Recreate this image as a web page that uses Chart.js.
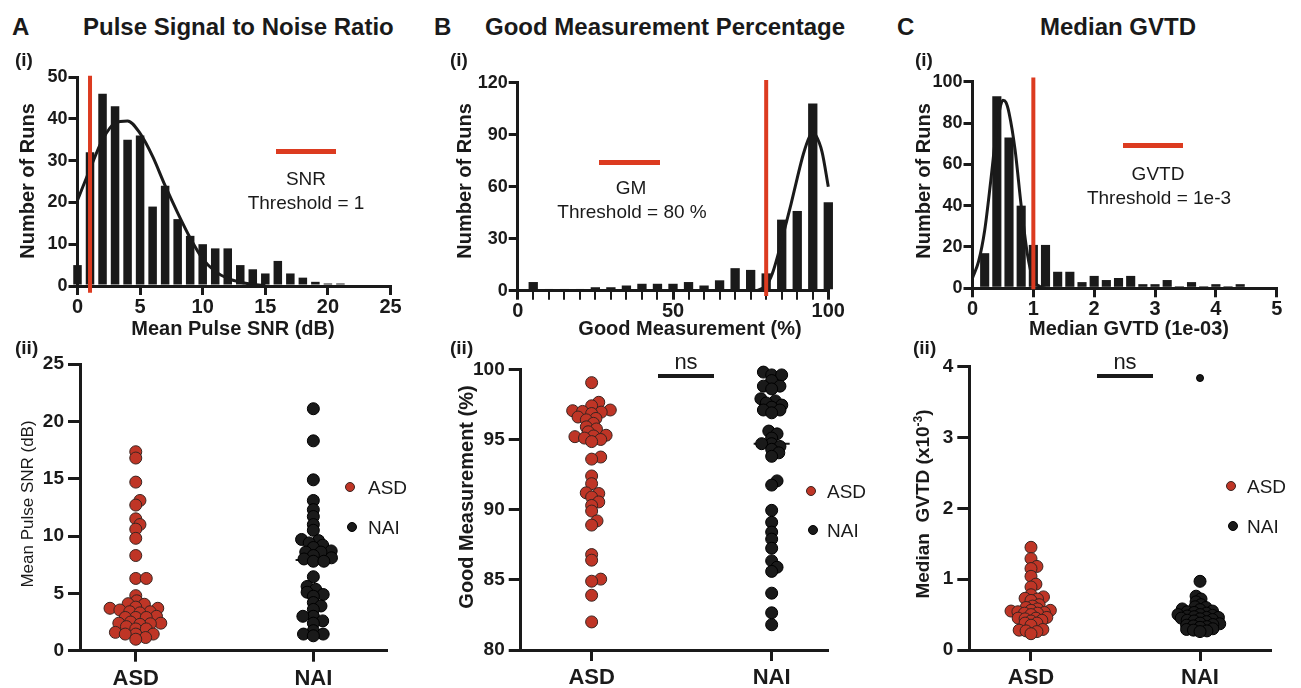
<!DOCTYPE html>
<html>
<head>
<meta charset="utf-8">
<script src="https://cdn.jsdelivr.net/npm/chart.js@4.4.1/dist/chart.umd.min.js"></script>
<style>
  body { margin: 0; background: #fff; width: 1301px; height: 688px; overflow: hidden; position: relative;
         font-family: "Liberation Sans", Arial, sans-serif; color: #1a1a1a; }
  canvas { position: absolute; }
  .t { position: absolute; white-space: nowrap; line-height: 1; z-index: 2; }
  .b { font-weight: bold; }
</style>
</head>
<body>
<canvas id="a1" width="412" height="262" style="left:0;top:57px"></canvas>
<canvas id="b1" width="420" height="260" style="left:430px;top:62px"></canvas>
<canvas id="c1" width="421" height="260" style="left:880px;top:61px"></canvas>
<canvas id="a2" width="400" height="344" style="left:0;top:344px"></canvas>
<canvas id="b2" width="400" height="339" style="left:440px;top:349px"></canvas>
<canvas id="c2" width="400" height="342" style="left:890px;top:346px"></canvas>

<script>
// ---- histogram data (row i) ----
const snrBins = [0, 1, 2, 3, 4, 5, 6, 7, 8, 9, 10, 11, 12, 13, 14, 15, 16, 17, 18, 19, 20, 21];
const snrCounts = [5, 32, 46, 43, 35, 36, 19, 24, 16, 12, 10, 9, 9, 5, 4, 3, 6, 3, 2, 1, 0.6, 0.6];
const snrFitX = [0, 1, 2, 3, 4, 5, 6, 7, 8, 9, 10, 11, 12, 13, 14, 15];
const snrFitY = [20.5, 28, 35, 39, 39.5, 36.5, 31, 24, 17.5, 11.5, 6.5, 3.5, 1.8, 0.9, 0.4, 0.1];
const snrThreshold = 1;

const gmBins = [5, 10, 15, 20, 25, 30, 35, 40, 45, 50, 55, 60, 65, 70, 75, 80, 85, 90, 95, 100];
const gmCounts = [5, 1, 1, 1, 2, 2, 3, 4, 4, 4, 5, 3, 6, 13, 12, 10, 41, 46, 108, 51];
const gmFitX = [77, 80, 82, 84, 86, 88, 90, 92, 94, 95, 96, 98, 100];
const gmFitY = [0, 3, 10, 22, 36, 50, 65, 79, 89, 91, 89.5, 80, 60];
const gmThreshold = 80;

const gvtdBins = [0.2, 0.4, 0.6, 0.8, 1.0, 1.2, 1.4, 1.6, 1.8, 2.0, 2.2, 2.4, 2.6, 2.8, 3.0, 3.2, 3.4, 3.6, 3.8, 4.0, 4.2, 4.4];
const gvtdCounts = [17, 93, 73, 40, 21, 21, 8, 8, 3, 6, 4, 5, 6, 2, 2, 4, 1, 3, 1, 2, 1, 2];
const gvtdFitX = [0, 0.1, 0.2, 0.3, 0.4, 0.45, 0.5, 0.55, 0.6, 0.7, 0.8, 0.9, 1.0, 1.1, 1.2];
const gvtdFitY = [5, 13, 28, 52, 78, 87, 91, 90, 85, 67, 40, 17, 4, 1, 0];
const gvtdThreshold = 1.0;

// ---- per-subject data (row ii) ----
const groups = ['ASD', 'NAI'];
const snrASD = [17.35, 16.8, 14.7, 13.1, 12.7, 11.5, 11.0, 10.6, 9.8, 8.3, 6.3, 6.3, 4.8, 4.35, 4.1, 4.05,
  3.8, 3.7, 3.7, 3.55, 3.4, 3.4, 3.3, 3.0, 2.9, 2.9, 2.9, 2.5, 2.4, 2.4, 2.35, 2.3, 2.1, 1.9, 1.9, 1.6,
  1.45, 1.45, 1.45, 1.15, 1.0];
const snrNAI = [21.1, 18.3, 14.9, 13.1, 12.3, 11.7, 11.0, 10.5, 9.7, 9.6, 9.4, 9.2, 9.0, 8.7, 8.6, 8.6,
  8.3, 8.1, 8.0, 7.8, 7.8, 6.45, 5.6, 5.35, 5.1, 4.9, 4.75, 4.2, 3.9, 3.6, 3.0, 3.0, 2.6, 2.4, 1.75,
  1.45, 1.45, 1.3];
const gmASD = [99.05, 97.65, 97.4, 97.1, 97.05, 97.0, 96.95, 96.85, 96.6, 96.5, 96.4, 96.15, 95.9, 95.75,
  95.55, 95.3, 95.25, 95.2, 95.1, 95.0, 94.85, 93.75, 93.6, 92.4, 91.85, 91.2, 91.15, 90.9, 90.55, 90.3,
  89.9, 89.2, 88.9, 86.8, 86.4, 85.05, 84.9, 83.9, 82.0];
const gmNAI = [99.8, 99.6, 99.6, 99.2, 98.8, 98.8, 98.6, 97.9, 97.75, 97.6, 97.45, 97.3, 97.1, 97.1, 96.9,
  95.6, 95.4, 95.1, 94.7, 94.7, 94.5, 94.3, 94.05, 93.8, 92.05, 91.75, 89.95, 89.1, 88.4, 87.9, 87.25,
  86.35, 85.9, 85.6, 84.05, 82.65, 81.8];
const gvtdASD = [1.45, 1.29, 1.18, 1.15, 1.04, 0.93, 0.89, 0.78, 0.75, 0.73, 0.72, 0.7, 0.64, 0.62, 0.6,
  0.58, 0.56, 0.56, 0.55, 0.54, 0.53, 0.52, 0.52, 0.5, 0.46, 0.45, 0.45, 0.44, 0.42, 0.41, 0.38, 0.38,
  0.35, 0.29, 0.28, 0.27, 0.26, 0.23];
const gvtdNAI = [3.84, 0.97, 0.76, 0.72, 0.68, 0.64, 0.61, 0.6, 0.58, 0.57, 0.55, 0.54, 0.53, 0.52, 0.5,
  0.5, 0.49, 0.48, 0.47, 0.46, 0.46, 0.45, 0.44, 0.43, 0.42, 0.41, 0.4, 0.38, 0.37, 0.36, 0.35, 0.34,
  0.33, 0.32, 0.3, 0.29, 0.28, 0.27, 0.26];

const INK = '#1a1a1a';
const RED = '#dc3b20';
const ASD_FILL = '#bf3526';
const SANS = '"Liberation Sans", Arial, sans-serif';

function axisStyle(tickLen, font, pad) {
  return {
    border: { display: true, width: 3, color: INK },
    grid: { display: true, drawOnChartArea: false, drawTicks: true, tickLength: tickLen, lineWidth: 3, color: INK, offset: false },
    ticks: { color: INK, font: font, padding: pad, autoSkip: false, maxRotation: 0 }
  };
}

function histChart(id, box, o) {
  const bars = o.bins.map((b, i) => ({ x: b, y: o.counts[i] }));
  const fit = o.fitX.map((x, i) => ({ x: x, y: o.fitY[i] }));
  const thr = [{ x: o.thr, y: o.lineLo }, { x: o.thr, y: o.lineHi }];
  const xa = axisStyle(9, { family: SANS, size: 20, weight: 'bold' }, 0);
  const ya = axisStyle(9, { family: SANS, size: 18, weight: 'bold' }, 1);
  xa.ticks.stepSize = o.xstep;
  if (o.xlabel) xa.ticks.callback = o.xlabel;
  if (o.minorTicks) xa.grid.lineWidth = c => (c.tick && c.tick.value % 50 === 0) ? 3 : 2;
  ya.ticks.stepSize = o.ystep;
  return new Chart(document.getElementById(id), {
    type: 'bar',
    data: {
      datasets: [
        { type: 'line', data: thr, borderColor: RED, borderWidth: 4, pointRadius: 0, clip: false, order: 0 },
        { type: 'line', data: fit, borderColor: INK, borderWidth: 3, pointRadius: 0,
          cubicInterpolationMode: 'monotone', clip: false, order: 1 },
        { type: 'bar', data: bars, backgroundColor: INK, barPercentage: o.barPct, categoryPercentage: 1,
          clip: false, order: 2 }
      ]
    },
    options: {
      responsive: false, animation: false, events: [],
      layout: { padding: box.pad },
      plugins: { legend: { display: false }, tooltip: { enabled: false } },
      scales: {
        x: Object.assign(xa, { type: 'linear', min: o.xmin, max: o.xmax, offset: false,
          afterFit: s => { s.height = box.xh; } }),
        y: Object.assign(ya, { min: 0, max: o.ymax, afterFit: s => { s.width = box.yw; } })
      }
    }
  });
}

function median(v) {
  const s = [...v].sort((a, b) => a - b), n = s.length;
  return n % 2 ? s[(n - 1) / 2] : (s[n / 2 - 1] + s[n / 2]) / 2;
}

// greedy beeswarm, in pixels: dx = side spacing, dy = vertical spacing
function swarm(vals, xs, ys, center, dx, dy) {
  const cx = xs.getPixelForValue(center);
  const idx = vals.map((v, i) => i).sort((a, b) => vals[a] - vals[b]);
  const placed = [];
  const out = new Array(vals.length);
  const clash = (x, y) => placed.some(p => ((p.x - x) / dx) ** 2 + ((p.y - y) / dy) ** 2 < 0.999);
  idx.forEach(i => {
    const py = ys.getPixelForValue(vals[i]);
    const cands = [0];
    placed.forEach(p => {
      const r = (py - p.y) / dy;
      if (Math.abs(r) < 1) {
        const off = dx * Math.sqrt(1 - r * r);
        cands.push(p.x + off, p.x - off);
      }
    });
    cands.sort((a, b) => Math.abs(a) - Math.abs(b));
    const x = cands.find(c => !clash(c, py));
    placed.push({ x: x, y: py });
    out[i] = xs.getValueForPixel(cx + x);
  });
  return out;
}

function dotChart(id, box, o) {
  const mA = median(o.asd), mN = median(o.nai);
  const ya = axisStyle(12, { family: SANS, size: 19, weight: 'bold' }, 4);
  const xa = axisStyle(11, { family: SANS, size: 22, weight: 'bold' }, 4);
  ya.ticks.stepSize = o.ystep;
  xa.ticks.callback = v => groups[v - 1];
  const small = o.smallAbove;
  const chart = new Chart(document.getElementById(id), {
    type: 'scatter',
    data: {
      datasets: [
        { data: o.asd.map(v => ({ x: 1, y: v })), pointRadius: 6, backgroundColor: ASD_FILL,
          borderColor: '#3a2420', borderWidth: 1, clip: false, order: 1 },
        { data: o.nai.map(v => ({ x: 2, y: v })),
          pointRadius: c => (small !== undefined && c.raw && c.raw.y > small) ? 3.5 : 6,
          backgroundColor: INK, borderColor: '#000', borderWidth: 1, clip: false, order: 1 },
        { data: [{ x: 0.9, y: mA }, { x: 1.1, y: mA }], showLine: true, borderColor: INK, borderWidth: 2,
          pointRadius: 0, order: 2 },
        { data: [{ x: 1.9, y: mN }, { x: 2.1, y: mN }], showLine: true, borderColor: INK, borderWidth: 2,
          pointRadius: 0, order: 2 }
      ]
    },
    options: {
      responsive: false, animation: false, events: [],
      layout: { padding: box.pad },
      plugins: { legend: { display: false }, tooltip: { enabled: false } },
      scales: {
        x: Object.assign(xa, { type: 'linear', min: o.xmin, max: o.xmax,
          afterBuildTicks: s => { s.ticks = [{ value: 1 }, { value: 2 }]; },
          afterFit: s => { s.height = box.xh; } }),
        y: Object.assign(ya, { min: o.ymin, max: o.ymax, afterFit: s => { s.width = box.yw; } })
      }
    }
  });
  const xs = chart.scales.x, ys = chart.scales.y;
  const ax = swarm(o.asd, xs, ys, 1, o.dx, o.dy);
  const nx = swarm(o.nai, xs, ys, 2, o.dx, o.dy);
  chart.data.datasets[0].data.forEach((p, i) => { p.x = ax[i]; });
  chart.data.datasets[1].data.forEach((p, i) => { p.x = nx[i]; });
  chart.update('none');
  return chart;
}

histChart('a1', { pad: { left: 0, right: 21.5, top: 20, bottom: 0 }, yw: 77.5, xh: 33 }, {
  bins: snrBins, counts: snrCounts, fitX: snrFitX, fitY: snrFitY, thr: snrThreshold,
  lineLo: -1.6, lineHi: 50.3, xmin: 0, xmax: 25, xstep: 5, ymax: 50, ystep: 10, barPct: 0.68
});
histChart('b1', { pad: { left: 0, right: 21.7, top: 20.7, bottom: 0 }, yw: 87.7, xh: 31.3 }, {
  bins: gmBins, counts: gmCounts, fitX: gmFitX, fitY: gmFitY, thr: gmThreshold,
  lineLo: -3, lineHi: 121.5, xmin: 0, xmax: 100, xstep: 5, ymax: 120, ystep: 30, barPct: 0.6,
  xlabel: v => (v % 50 === 0 ? v : ''), minorTicks: true
});
histChart('c1', { pad: { left: 0, right: 24.3, top: 20.7, bottom: 0 }, yw: 92.5, xh: 32.7 }, {
  bins: gvtdBins, counts: gvtdCounts, fitX: gvtdFitX, fitY: gvtdFitY, thr: gvtdThreshold,
  lineLo: -0.5, lineHi: 102, xmin: 0, xmax: 5, xstep: 1, ymax: 100, ystep: 20, barPct: 0.75
});

dotChart('a2', { pad: { left: 0, right: 13.3, top: 20, bottom: 0 }, yw: 80, xh: 37.3 }, {
  asd: snrASD, nai: snrNAI, ymin: 0, ymax: 25, ystep: 5, xmin: 0.686, xmax: 2.413, dx: 10.5, dy: 5
});
dotChart('b2', { pad: { left: 0, right: 12.7, top: 20.3, bottom: 0 }, yw: 80.7, xh: 38 }, {
  asd: gmASD, nai: gmNAI, ymin: 80, ymax: 100, ystep: 5, xmin: 0.606, xmax: 2.309, dx: 10, dy: 5
});
dotChart('c2', { pad: { left: 0, right: 20, top: 20.7, bottom: 0 }, yw: 79.3, xh: 38 }, {
  asd: gvtdASD, nai: gvtdNAI, ymin: 0, ymax: 4, ystep: 1, xmin: 0.635, xmax: 2.414, dx: 7, dy: 4,
  smallAbove: 3
});

// ---- text, legends, annotations ----
function txt(s, x, y, cls, size, anchor, rot) {
  const d = document.createElement('div');
  d.className = 't ' + (cls || '');
  d.innerHTML = s;
  d.style.fontSize = size + 'px';
  d.style.left = x + 'px';
  d.style.top = y + 'px';
  const tx = anchor === 'left' ? '0' : '-50%';
  d.style.transform = 'translate(' + tx + ',-50%)' + (rot ? ' rotate(-90deg)' : '');
  document.body.appendChild(d);
}
function rect(x, y, w, h, color) {
  const d = document.createElement('div');
  d.style.cssText = 'position:absolute;z-index:2;left:' + x + 'px;top:' + y + 'px;width:' + w + 'px;height:' + h + 'px;background:' + color;
  document.body.appendChild(d);
}
function dot(x, y, r, fill, stroke) {
  const d = document.createElement('div');
  d.style.cssText = 'position:absolute;z-index:2;left:' + (x - r) + 'px;top:' + (y - r) + 'px;width:' + (2 * r) + 'px;height:' + (2 * r) +
    'px;border-radius:50%;box-sizing:border-box;background:' + fill + ';border:1px solid ' + stroke;
  document.body.appendChild(d);
}

// panel headings
txt('A', 12, 27, 'b', 24, 'left');
txt('Pulse Signal to Noise Ratio', 83, 27, 'b', 24, 'left');
txt('B', 434, 27, 'b', 24, 'left');
txt('Good Measurement Percentage', 485, 27, 'b', 24, 'left');
txt('C', 897, 27, 'b', 24, 'left');
txt('Median GVTD', 1040, 27, 'b', 24, 'left');
txt('(i)', 15, 59, 'b', 19, 'left');
txt('(i)', 450, 59, 'b', 19, 'left');
txt('(i)', 915, 59, 'b', 19, 'left');
txt('(ii)', 15, 347, 'b', 19, 'left');
txt('(ii)', 450, 347, 'b', 19, 'left');
txt('(ii)', 913, 347, 'b', 19, 'left');

// axis titles
txt('Number of Runs', 27, 181, 'b', 20, 'center', true);
txt('Number of Runs', 464, 181, 'b', 20, 'center', true);
txt('Number of Runs', 923, 181, 'b', 20, 'center', true);
txt('Mean Pulse SNR (dB)', 233, 328, 'b', 20);
txt('Good Measurement (%)', 690, 328, 'b', 20);
txt('Median GVTD (1e-03)', 1129, 328, 'b', 20);
txt('Mean Pulse SNR (dB)', 27, 504, '', 17, 'center', true);
txt('Good Measurement (%)', 466, 497, 'b', 20, 'center', true);
txt('Median&nbsp; GVTD (x10<sup style="font-size:12px">-3</sup>)', 922, 504, 'b', 19, 'center', true);

// threshold keys
rect(276, 149, 60, 4.5, RED);
txt('SNR', 306, 178, '', 19);
txt('Threshold = 1', 306, 202, '', 19);
rect(599, 160, 61, 4.5, RED);
txt('GM', 631, 187, '', 19);
txt('Threshold = 80 %', 632, 211, '', 19);
rect(1123, 143, 60, 4.5, RED);
txt('GVTD', 1158, 173, '', 19);
txt('Threshold = 1e-3', 1159, 197, '', 19);

// group keys
[[350, 487, 368, 527], [811, 491, 827, 530], [1231, 486, 1247, 526]].forEach(k => {
  dot(k[0], k[1], 5, ASD_FILL, '#3a2420');
  txt('ASD', k[2], k[1], '', 19, 'left');
  dot(k[0] + 1.5, k[3], 5, INK, '#000');
  txt('NAI', k[2], k[3], '', 19, 'left');
});

// significance marks
txt('ns', 686, 362, '', 22);
rect(657.7, 374, 56.6, 4, INK);
txt('ns', 1125, 362, '', 22);
rect(1096.7, 374, 56.6, 4, INK);
</script>
</body>
</html>
